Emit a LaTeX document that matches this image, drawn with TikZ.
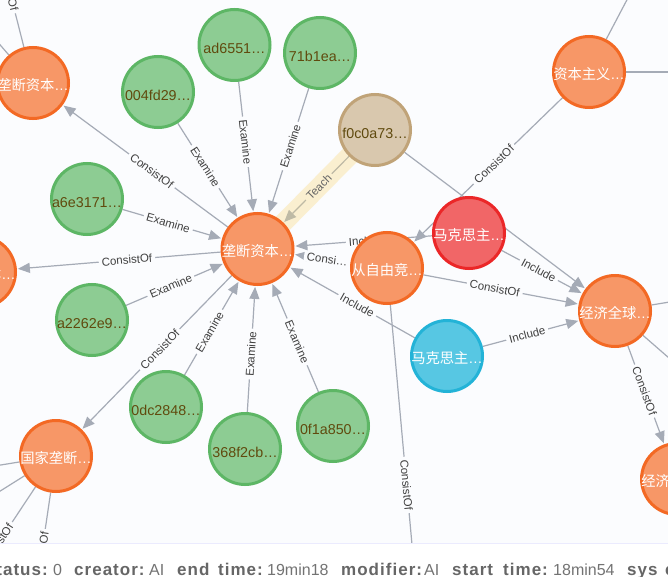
\documentclass[tikz,border=0pt]{standalone}
\usepackage{fontspec}
\setmainfont{Liberation Sans}
\newfontfamily\cjk{Noto Sans CJK SC}
\newfontfamily\footbf[LetterSpace=6,UprightFont=* Bold]{Liberation Sans}
\usetikzlibrary{arrows.meta,backgrounds}
\pgfdeclarelayer{top}
\pgfsetlayers{background,main,top}
\definecolor{canvas}{HTML}{FBFCFE}
\definecolor{relc}{HTML}{A5ABB6}
\definecolor{bandc}{HTML}{FAEFD0}
\definecolor{hashc}{HTML}{604A0E}
\newcommand{\hs}[1]{\raisebox{-8.5pt}[0pt][0pt]{\makebox[0pt][c]{\fontsize{14.3}{14}\selectfont #1…}}}
\newcommand{\zh}[1]{\raisebox{-7.5pt}[0pt][0pt]{\makebox[0pt][c]{\fontsize{14.3}{14}\selectfont\cjk #1\rmfamily …}}}
\tikzset{
  ent/.style={circle,draw,line width=3pt,minimum size=71pt,inner sep=0pt},
  orangen/.style={ent,fill={rgb,255:red,247;green,151;blue,103},draw={rgb,255:red,243;green,105;blue,36},text=white},
  greenn/.style={ent,fill={rgb,255:red,141;green,204;blue,147},draw={rgb,255:red,93;green,182;blue,101},text=hashc},
  tann/.style={ent,fill={rgb,255:red,217;green,200;blue,174},draw={rgb,255:red,192;green,163;blue,120},text=hashc},
  redn/.style={ent,fill={rgb,255:red,241;green,102;blue,103},draw={rgb,255:red,235;green,39;blue,40},text=white},
  bluen/.style={ent,fill={rgb,255:red,87;green,199;blue,227},draw={rgb,255:red,35;green,179;blue,215},text=white},
  rel/.style={draw=relc,line width=1.2pt,-{Triangle[length=12pt,width=10pt]},shorten >=1pt},
  plain/.style={draw=relc,line width=1.2pt},
  lbl/.style={pos=.46,sloped,fill=canvas,text=black!75,inner xsep=3pt,inner ysep=1pt,font=\fontsize{11.5}{12}\selectfont},
  keyt/.style={anchor=base west,inner sep=0pt,text=black!60,font=\footbf\fontsize{17}{17}\selectfont},
  valt/.style={anchor=base west,inner sep=0pt,text=black!55,font=\fontsize{16}{16}\selectfont},
}
\begin{document}
\begin{tikzpicture}[x=1pt,y=-1pt]
\useasboundingbox (0,0) rectangle (668,577);
% nodes
\node[orangen] (mono) at (257.5,249) {\zh{垄断资本}};
\node[orangen] (tl) at (33,83) {\zh{垄断资本}};
\node[orangen] (lf) at (-20,272) {\zh{垄断资本}};
\node[orangen] (state) at (56,456) {\zh{国家垄断}};
\node[orangen] (free) at (387,268) {\zh{从自由竞}};
\node[orangen] (cap) at (589,72) {\zh{资本主义}};
\node[orangen] (glob) at (615,311) {\zh{经济全球}};
\node[orangen] (br) at (677,479) {\zh{经济全球}};
\node[redn] (mr) at (469,233) {\zh{马克思主}};
\node[bluen] (mb) at (447,356) {\zh{马克思主}};
\node[tann] (f0) at (375,130) {\hs{f0c0a73}};
\node[greenn] (ad) at (234.5,45) {\hs{ad6551}};
\node[greenn] (s71) at (320,53) {\hs{71b1ea}};
\node[greenn] (s00) at (158,92) {\hs{004fd29}};
\node[greenn] (a6) at (87,199) {\hs{a6e3171}};
\node[greenn] (a2) at (92,320) {\hs{a2262e9}};
\node[greenn] (s0d) at (166,407) {\hs{0dc2848}};
\node[greenn] (s36) at (245,449) {\hs{368f2cb}};
\node[greenn] (s0f) at (333,426) {\hs{0f1a850}};
% free ends
\coordinate (e1) at (417,600);
\coordinate (e2) at (-15,-106);
\coordinate (e3) at (-30,10);
\coordinate (e4) at (-62,634);
\coordinate (e5) at (26,660);
\coordinate (e6) at (-30,470);
\coordinate (e7) at (-30,510);
\coordinate (e8) at (640,-25);
\coordinate (e9) at (700,72);
\coordinate (e10) at (700,297);
\coordinate (e11) at (700,385);
\begin{pgfonlayer}{background}
\fill[canvas] (0,0) rectangle (668,577);
\draw[bandc,line width=19pt] (f0.center) -- (mono.center);
\draw[rel,draw={rgb,255:red,190;green,186;blue,165}] (f0) -- node[lbl,fill=bandc,text=black!60] {Teach} (mono);
\draw[rel] (s00) -- node[lbl] {Examine} (mono);
\draw[rel] (ad) -- node[lbl] {Examine} (mono);
\draw[rel] (s71) -- node[lbl] {Examine} (mono);
\draw[rel] (a6) -- node[lbl] {Examine} (mono);
\draw[rel] (a2) -- node[lbl] {Examine} (mono);
\draw[rel] (s0d) -- node[lbl] {Examine} (mono);
\draw[rel] (s36) -- node[lbl] {Examine} (mono);
\draw[rel] (s0f) -- node[lbl] {Examine} (mono);
\draw[rel] (mono) -- node[lbl] {ConsistOf} (tl);
\draw[rel] (mono) -- node[lbl] {ConsistOf} (lf);
\draw[rel] (mono) -- node[lbl,pos=.48] {ConsistOf} (state);
\draw[rel] (free) -- node[lbl,pos=.41] {Consi…} (mono);
\draw[rel] (mr) -- node[lbl,pos=.47] {Include} (mono);
\draw[rel] (mb) -- node[lbl] {Include} (mono);
\draw[rel] (mb) -- node[lbl] {Include} (glob);
\draw[rel] (mr) -- node[lbl] {Include} (glob);
\draw[rel] (f0) -- (glob);
\draw[rel] (free) -- node[lbl] {ConsistOf} (glob);
\draw[rel] (cap) -- node[lbl] {ConsistOf} (free);
\draw[plain] (free) -- node[lbl,pos=.61] {ConsistOf} (e1);
\draw[rel] (glob) -- node[lbl] {ConsistOf} (br);
\draw[plain] (tl) -- node[lbl,pos=.40] {ConsistOf} (e2);
\draw[plain] (tl) -- (e3);
\draw[plain] (state) -- node[lbl,pos=.40] {ConsistOf} (e4);
\draw[plain] (state) -- node[lbl,pos=.385] {ConsistOf} (e5);
\draw[plain] (state) -- (e6);
\draw[plain] (state) -- (e7);
\draw[plain] (cap) -- (e8);
\draw[plain] (cap) -- (e9);
\draw[plain] (glob) -- (e10);
\draw[plain] (glob) -- (e11);
\end{pgfonlayer}
\begin{pgfonlayer}{top}
\fill[white] (0,543.5) rectangle (668,577);
\draw[black!6!blue!8!white,line width=1pt] (0,543.5) -- (668,543.5);
\node[keyt,anchor=base east] (k1) at (48,575) {status:};
\node[valt] (v1) at (53,575) {0};
\node[keyt] (k2) at (74,575) {creator:};
\node[valt] (v2) at (149,575) {AI};
\node[keyt] (k3) at (177,575) {end};
\node[keyt] (k4) at (218,575) {time:};
\node[valt] (v3) at (267,575) {19min18};
\node[keyt] (k5) at (341,575) {modifier:};
\node[valt] (v4) at (424,575) {AI};
\node[keyt] (k6) at (452,575) {start};
\node[keyt] (k7) at (503,575) {time:};
\node[valt] (v5) at (553,575) {18min54};
\node[keyt] (k8) at (627,575) {sys};
\node[keyt] (k9) at (665,575) {c};
\end{pgfonlayer}
\end{tikzpicture}
\end{document}
